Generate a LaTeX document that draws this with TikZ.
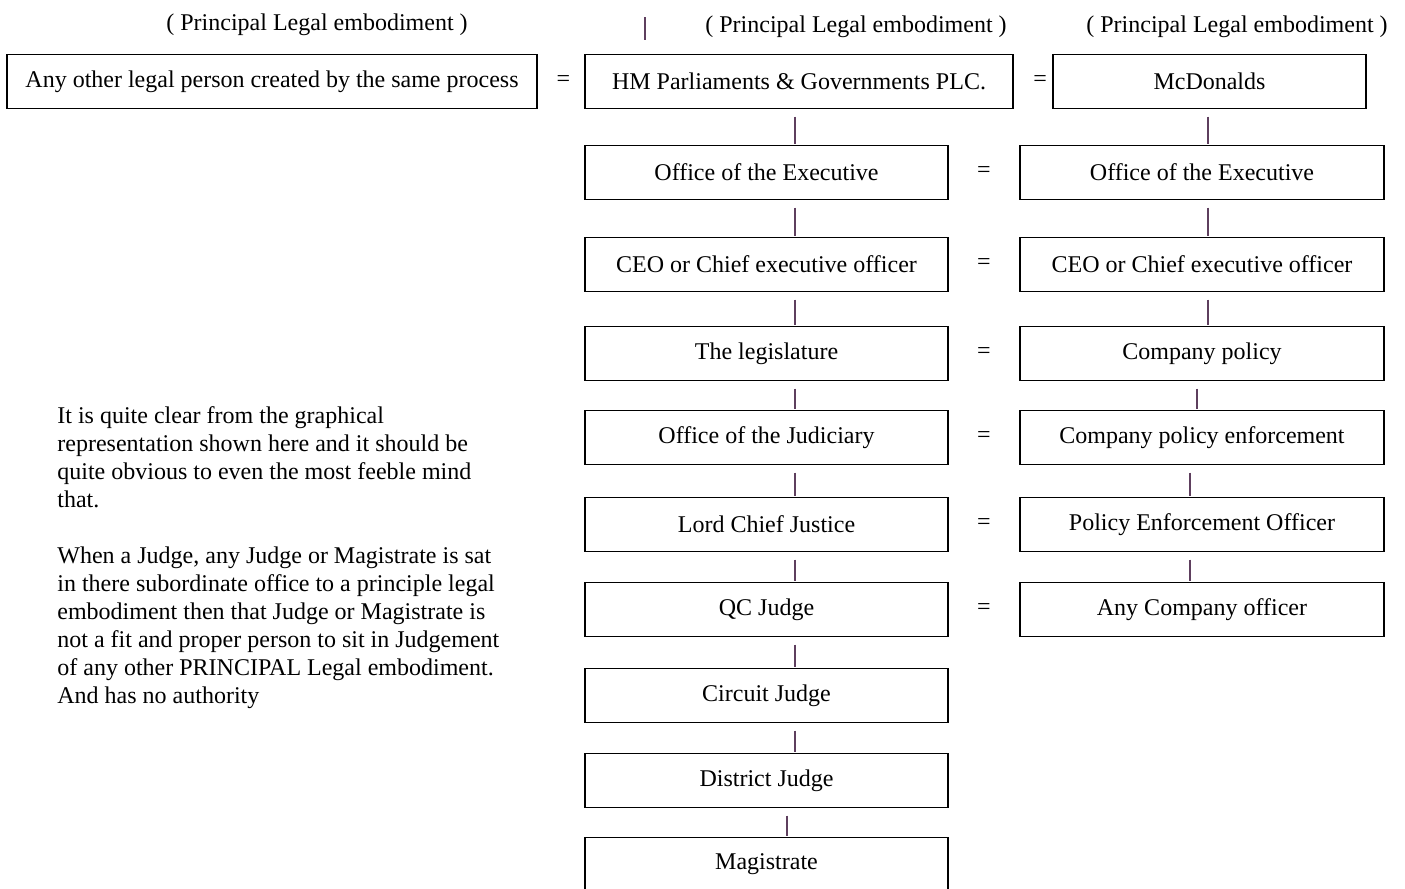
\documentclass[tikz,border=0pt]{standalone}
\usepackage{fontspec}
\setmainfont{Liberation Serif}
\usepackage{tikz}
\usetikzlibrary{positioning}
\definecolor{linkcol}{HTML}{5E3F5E}

\begin{document}
\begin{tikzpicture}[x=0.5pt,y=-0.5pt,
			every node/.style={font=\fontsize{12}{14}\selectfont},
			office/.style={draw,line width=0.7pt,minimum height=27pt,inner sep=0pt,outer sep=0pt},
			mid/.style={office,minimum width=181.5pt},
			side/.style={office,minimum width=182pt},
			link/.style={draw=linkcol,line width=0.6pt,shorten <=4pt,shorten >=1pt}]

			\useasboundingbox (0,0) rectangle (1405,889);

			% headings
			\node (head1) at (317,25) {( Principal Legal embodiment )};
			\node (head2) at (856,27) {( Principal Legal embodiment )};
			\node (head3) at (1237,27) {( Principal Legal embodiment )};
			\coordinate (tickA) at (645,17);
			\coordinate (tickB) at (645,40);
			\draw[draw=linkcol,line width=0.6pt] (tickA) -- (tickB);

			% top row
			\node[office,minimum width=265pt] (other) at (272,81.5) {Any other legal person created by the same process};
			\node[office,minimum width=214pt] (hm) at (799,81.5) {HM Parliaments \& Governments PLC.};
			\node[office,minimum width=156.5pt] (mcd) at (1209.5,81.5) {McDonalds};

			% state side
			\node[mid] (exec1) at (766.5,172.5) {Office of the Executive};
			\node[mid] (ceo1) [below=19pt of exec1] {CEO or Chief executive officer};
			\node[mid] (leg) [below=17.5pt of ceo1] {The legislature};
			\node[mid] (jud) [below=15pt of leg] {Office of the Judiciary};
			\node[mid] (lcj) [below=16.5pt of jud] {Lord Chief Justice};
			\node[mid] (qc) [below=15.5pt of lcj] {QC Judge};
			\node[mid] (circ) [below=16pt of qc] {Circuit Judge};
			\node[mid] (dist) [below=15.5pt of circ] {District Judge};
			\node[mid] (mag) [below=15pt of dist] {Magistrate};

			% company side
			\node[side] (exec2) [right=36pt of exec1] {Office of the Executive};
			\node[side] (ceo2) [right=36pt of ceo1] {CEO or Chief executive officer};
			\node[side] (pol) [right=36pt of leg] {Company policy};
			\node[side] (polenf) [right=36pt of jud] {Company policy enforcement};
			\node[side] (peo) [right=36pt of lcj] {Policy Enforcement Officer};
			\node[side] (anyoff) [right=36pt of qc] {Any Company officer};

			% equal signs
			\path (other) -- node[pos=0.55] {=} (hm)
			(hm) -- node[pos=0.68] {=} (mcd)
			(exec1) -- node {=} (exec2)
			(ceo1) -- node {=} (ceo2)
			(leg) -- node {=} (pol)
			(jud) -- node {=} (polenf)
			(lcj) -- node {=} (peo)
			(qc) -- node {=} (anyoff);

			% connectors
			\path ([xshift=-2pt]hm.south) edge[link] ([xshift=14.25pt]exec1.north)
			([xshift=14.25pt]exec1.south) edge[link] ([xshift=14.25pt]ceo1.north)
			([xshift=14.25pt]ceo1.south) edge[link] ([xshift=14.25pt]leg.north)
			([xshift=14.25pt]leg.south) edge[link] ([xshift=14.25pt]jud.north)
			([xshift=14.25pt]jud.south) edge[link] ([xshift=14.25pt]lcj.north)
			([xshift=14.25pt]lcj.south) edge[link] ([xshift=14.25pt]qc.north)
			([xshift=14.25pt]qc.south) edge[link] ([xshift=14.25pt]circ.north)
			([xshift=14.25pt]circ.south) edge[link] ([xshift=14.25pt]dist.north)
			([xshift=10.25pt]dist.south) edge[link] ([xshift=10.25pt]mag.north);
			\path ([xshift=-0.75pt]mcd.south) edge[link] ([xshift=3pt]exec2.north)
			([xshift=3pt]exec2.south) edge[link] ([xshift=3pt]ceo2.north)
			([xshift=3pt]ceo2.south) edge[link] ([xshift=3pt]pol.north)
			([xshift=-2.5pt]pol.south) edge[link] ([xshift=-2.5pt]polenf.north)
			([xshift=-6pt]polenf.south) edge[link] ([xshift=-6pt]peo.north)
			([xshift=-6pt]peo.south) edge[link] ([xshift=-6pt]anyoff.north);

			% remark
			\node[anchor=north west,align=left,inner sep=0pt] (note) at (57,406)
			{It is quite clear from the graphical\\
				representation shown here and it should be\\
				quite obvious to even the most feeble mind\\
				that.\\[14pt]
				When a Judge, any Judge or Magistrate is sat\\
				in there subordinate office to a principle legal\\
				embodiment then that Judge or Magistrate is\\
				not a fit and proper person to sit in Judgement\\
				of any other PRINCIPAL Legal embodiment.\\
				And has no authority};
\end{tikzpicture}
\end{document}
